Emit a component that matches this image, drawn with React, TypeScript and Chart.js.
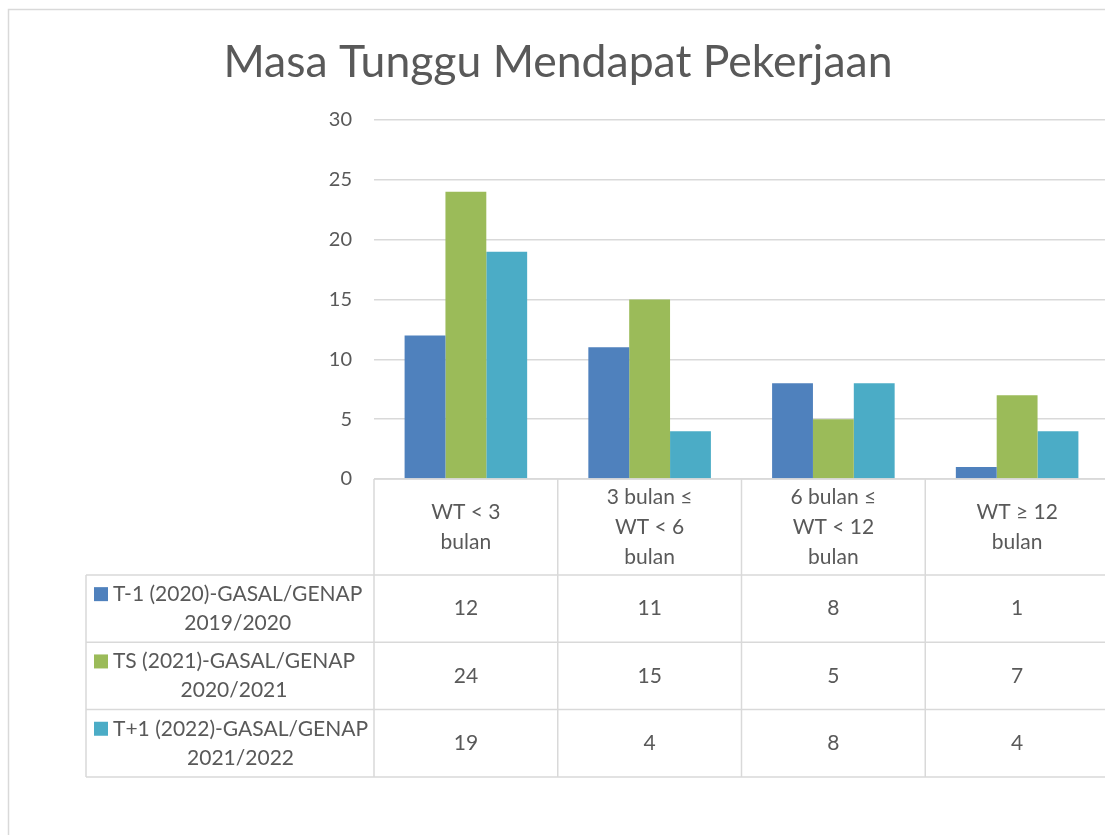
import React, { useEffect, useRef } from "react";
import Chart from "chart.js/auto";

const chartTitle = "Masa Tunggu Mendapat Pekerjaan";
const categoryLines: string[][] = [
  ["WT < 3", "bulan"],
  ["3 bulan ≤", "WT < 6", "bulan"],
  ["6 bulan ≤", "WT < 12", "bulan"],
  ["WT ≥ 12", "bulan"],
];
const categories = categoryLines.map((l) => l.join(" "));
const seriesNames: string[][] = [
  ["T-1 (2020)-GASAL/GENAP", "2019/2020"],
  ["TS (2021)-GASAL/GENAP", "2020/2021"],
  ["T+1 (2022)-GASAL/GENAP", "2021/2022"],
];
const seriesT1 = [12, 11, 8, 1];
const seriesTS = [24, 15, 5, 7];
const seriesTP1 = [19, 4, 8, 4];
const seriesValues = [seriesT1, seriesTS, seriesTP1];
const seriesColors = ["#4F81BD", "#9BBB59", "#4BACC6"];
const yMin = 0;
const yMax = 30;
const yStep = 5;

const FONT = "Lato, 'Open Sans', sans-serif";
const TEXT = "#595959";
const LINE = "#D9D9D9";

const framePlugin = {
  id: "frameAndTable",
  afterDraw(chart: any) {
    const ctx: CanvasRenderingContext2D = chart.ctx;
    const { left, right, bottom } = chart.chartArea;
    const n = categories.length;
    const cw = (right - left) / n;
    const headerH = 96;
    const rowH = 67.3;
    const tableLeft = 86;
    const headerBottom = bottom + headerH;
    const tableBottom = headerBottom + rowH * seriesNames.length;

    ctx.save();
    // outer chart frame
    ctx.strokeStyle = LINE;
    ctx.lineWidth = 1.5;
    ctx.strokeRect(8.5, 9.5, 1300, 1000);

    // title
    ctx.fillStyle = TEXT;
    ctx.font = `44.5px ${FONT}`;
    ctx.textAlign = "center";
    ctx.textBaseline = "alphabetic";
    ctx.fillText(chartTitle, 558, 77);

    // table lines
    ctx.strokeStyle = LINE;
    ctx.lineWidth = 1.5;
    const line = (x1: number, y1: number, x2: number, y2: number) => {
      ctx.beginPath();
      ctx.moveTo(x1, y1);
      ctx.lineTo(x2, y2);
      ctx.stroke();
    };
    line(left, bottom, right, bottom);
    for (let r = 0; r <= seriesNames.length; r++) {
      const y = headerBottom + r * rowH;
      line(tableLeft, y, right, y);
    }
    line(tableLeft, headerBottom, tableLeft, tableBottom);
    for (let i = 0; i <= n; i++) {
      const x = left + i * cw;
      line(x, bottom, x, tableBottom);
    }

    // header category labels
    ctx.fillStyle = TEXT;
    ctx.font = `21px ${FONT}`;
    ctx.textAlign = "center";
    ctx.textBaseline = "middle";
    const lh = 30;
    const xs = chart.scales.x;
    categoryLines.forEach((lines, i) => {
      const cx = xs.getPixelForValue(i);
      const cy = bottom + headerH / 2;
      const start = cy - ((lines.length - 1) * lh) / 2;
      lines.forEach((t, k) => ctx.fillText(t, cx, start + k * lh));
    });

    // legend cells + values
    seriesNames.forEach((name, r) => {
      const cy = headerBottom + r * rowH + rowH / 2;
      const y1 = cy - 14.5;
      const y2 = cy + 14.5;
      ctx.fillStyle = seriesColors[r];
      ctx.fillRect(94, y1 - 7, 14, 14);
      ctx.fillStyle = TEXT;
      ctx.textAlign = "left";
      ctx.fillText(name[0], 113, y1);
      const w = ctx.measureText(name[0]).width;
      ctx.textAlign = "center";
      ctx.fillText(name[1], 113 + w / 2, y2);
      seriesValues[r].forEach((v, i) => {
        ctx.fillText(String(v), xs.getPixelForValue(i), cy);
      });
    });
    ctx.restore();
  },
};

export default function App() {
  const ref = useRef<HTMLCanvasElement>(null);
  useEffect(() => {
    if (!ref.current) return;
    const chart = new Chart(ref.current, {
      type: "bar",
      data: {
        labels: categories,
        datasets: seriesNames.map((nm, i) => ({
          label: nm.join(" "),
          data: seriesValues[i],
          backgroundColor: seriesColors[i],
          borderWidth: 0,
          categoryPercentage: 0.667,
          barPercentage: 1.0,
        })),
      },
      options: {
        animation: false,
        responsive: false,
        devicePixelRatio: 1,
        layout: { padding: { top: 120, right: 11, bottom: 356, left: 0 } },
        plugins: {
          legend: { display: false },
          title: { display: false },
          tooltip: { enabled: false },
        },
        scales: {
          x: { display: false },
          y: {
            min: yMin,
            max: yMax,
            ticks: {
              stepSize: yStep,
              color: TEXT,
              font: { family: FONT, size: 20 },
              padding: 22,
            },
            grid: { color: LINE, lineWidth: 1.5, drawTicks: false },
            border: { display: false },
            afterFit: (s: any) => {
              s.width = 374;
            },
          },
        },
      },
      plugins: [framePlugin],
    });
    return () => chart.destroy();
  }, []);
  return (
    <div
      style={{
        position: "fixed",
        left: 0,
        top: 0,
        width: 1105,
        height: 835,
        overflow: "hidden",
        background: "#fff",
      }}
    >
      <canvas ref={ref} width={1120} height={835} style={{ display: "block" }} />
    </div>
  );
}
